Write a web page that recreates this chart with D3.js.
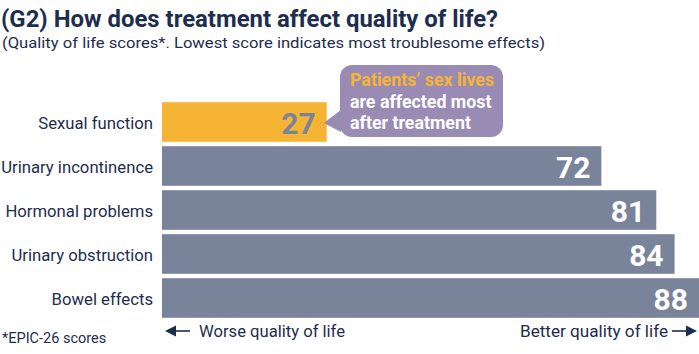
<!DOCTYPE html>
<html>
<head>
<meta charset="utf-8">
<script src="https://cdn.jsdelivr.net/npm/d3@7/dist/d3.min.js"></script>
<style>
  html, body { margin: 0; padding: 0; background: #fff; }
  svg { display: block; font-family: Roboto, "Noto Sans", sans-serif; }
</style>
</head>
<body>
<div id="chart"></div>
<script>
// Chart data
const categories = ["Sexual function", "Urinary incontinence", "Hormonal problems", "Urinary obstruction", "Bowel effects"];
const scores = [27, 72, 81, 84, 88];
const highlight = "Sexual function";
const calloutLines = ["Patients\u2019 sex lives", "are affected most", "after treatment"];

const width = 699, height = 354;
const navy = "#1d2d4e", slate = "#79849a", gold = "#f6b434", lilac = "#9a8bb5";

const svg = d3.select("#chart").append("svg")
    .attr("width", width)
    .attr("height", height);

// Scales
const x = d3.scaleLinear().domain([0, 88]).range([162, 699]);
const y = d3.scaleBand()
    .domain(categories)
    .range([100, 320])
    .paddingInner(0.1)
    .paddingOuter(0.05);

const data = categories.map((c, i) => ({ name: c, value: scores[i] }));

// Title + subtitle
svg.append("text")
    .attr("x", 1).attr("y", 27)
    .attr("font-size", "24px").attr("font-weight", "bold")
    .attr("fill", navy)
    .attr("textLength", 497).attr("lengthAdjust", "spacingAndGlyphs")
    .text("(G2) How does treatment affect quality of life?");

svg.append("text")
    .attr("x", 2).attr("y", 48)
    .attr("font-size", "15.5px")
    .attr("fill", navy)
    .attr("textLength", 543).attr("lengthAdjust", "spacingAndGlyphs")
    .text("(Quality of life scores*. Lowest score indicates most troublesome effects)");

// Bars
svg.selectAll(".bar")
    .data(data)
    .enter()
    .append("rect")
    .attr("class", "bar")
    .attr("x", x(0))
    .attr("y", d => y(d.name))
    .attr("width", d => x(d.value) - x(0))
    .attr("height", y.bandwidth())
    .attr("fill", d => d.name === highlight ? gold : slate);

// Category labels
svg.selectAll(".cat")
    .data(data)
    .enter()
    .append("text")
    .attr("class", "cat")
    .attr("x", 153)
    .attr("y", d => y(d.name) + y.bandwidth() / 2 + 1)
    .attr("dy", "0.35em")
    .attr("text-anchor", "end")
    .attr("font-size", "16.7px")
    .attr("fill", navy)
    .text(d => d.name);

// Value labels
svg.selectAll(".val")
    .data(data)
    .enter()
    .append("text")
    .attr("class", "val")
    .attr("x", d => x(d.value) - 11)
    .attr("y", d => y(d.name) + y.bandwidth() / 2 + 1)
    .attr("dy", "0.36em")
    .attr("text-anchor", "end")
    .attr("font-size", "30px")
    .attr("font-weight", "bold")
    .attr("fill", d => d.name === highlight ? slate : "#fff")
    .text(d => d.value);

// Callout bubble pointing at the highlighted bar
const hy = y(highlight) + y.bandwidth() / 2;
const bx = 340, bw = 163, by = 65, bh = 72;
const callout = svg.append("g");
callout.append("rect")
    .attr("x", bx).attr("y", by)
    .attr("width", bw).attr("height", bh)
    .attr("rx", 12).attr("ry", 12)
    .attr("fill", lilac);
callout.append("path")
    .attr("d", `M${bx + 1},${hy - 12} L${x(27) - 3},${hy + 1} L${bx + 1},${hy + 10} Z`)
    .attr("fill", lilac);
callout.selectAll("text")
    .data(calloutLines)
    .enter()
    .append("text")
    .attr("x", 350)
    .attr("y", (d, i) => 86 + i * 21.5)
    .attr("font-size", "17.8px")
    .attr("font-weight", "bold")
    .attr("fill", (d, i) => i === 0 ? gold : "#fff")
    .text(d => d);

// Footer
svg.append("text")
    .attr("x", 2).attr("y", 343)
    .attr("font-size", "14.5px")
    .attr("fill", navy)
    .text("*EPIC-26 scores");

function arrow(x1, x2, yy) {
    const dir = Math.sign(x2 - x1);
    svg.append("line")
        .attr("x1", x1).attr("x2", x2 - dir * 8)
        .attr("y1", yy).attr("y2", yy)
        .attr("stroke", navy).attr("stroke-width", 1.6);
    svg.append("path")
        .attr("d", `M${x2},${yy} L${x2 - dir * 11},${yy - 5.5} L${x2 - dir * 11},${yy + 5.5} Z`)
        .attr("fill", navy);
}

arrow(190, 165, 331);
svg.append("text")
    .attr("x", 199).attr("y", 337)
    .attr("font-size", "16.5px")
    .attr("fill", navy)
    .attr("textLength", 146).attr("lengthAdjust", "spacingAndGlyphs")
    .text("Worse quality of life");

svg.append("text")
    .attr("x", 668).attr("y", 337)
    .attr("text-anchor", "end")
    .attr("font-size", "16.5px")
    .attr("fill", navy)
    .attr("textLength", 148).attr("lengthAdjust", "spacingAndGlyphs")
    .text("Better quality of life");
arrow(672, 697, 331);
</script>
</body>
</html>
